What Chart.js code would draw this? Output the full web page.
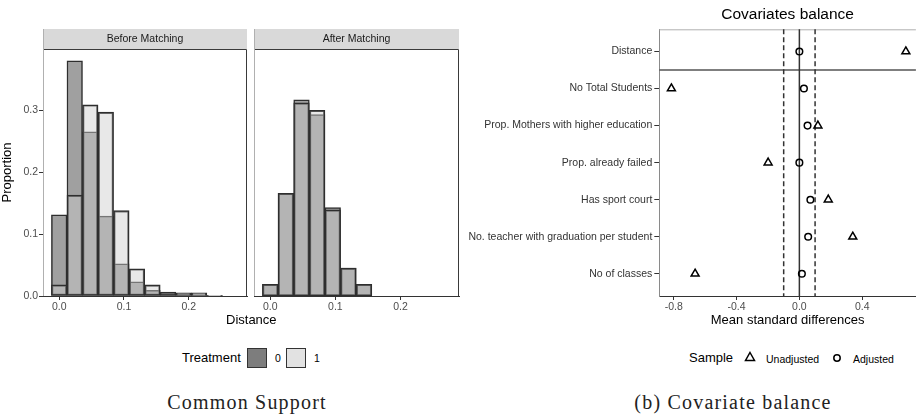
<!DOCTYPE html>
<html>
<head>
<meta charset="utf-8">
<script src="https://cdn.jsdelivr.net/npm/chart.js@4.4.1/dist/chart.umd.min.js"></script>
<style>
  body { margin: 0; width: 922px; height: 419px; background: #fff; position: relative; overflow: hidden;
         font-family: "Liberation Sans", Arial, sans-serif; color: #000; }
  canvas { position: absolute; }
  .txt { position: absolute; white-space: nowrap; line-height: 16px; }
  .box { position: absolute; width: 18px; height: 18px; border: 1.5px solid #333; }
  .cap { position: absolute; white-space: nowrap; font-family: "Liberation Serif", "DejaVu Serif", serif;
         font-size: 20px; letter-spacing: 1.2px; color: #222; transform: translateX(-50%); }
</style>
</head>
<body>
<canvas id="before" width="250" height="289" style="left:0;top:29px"></canvas>
<canvas id="after" width="212" height="289" style="left:250px;top:29px"></canvas>
<canvas id="balance" width="462" height="330" style="left:460px;top:0"></canvas>

<div class="txt" style="left:226px;top:312px;font-size:13px">Distance</div>

<div class="txt" style="left:182px;top:350px;font-size:13px">Treatment</div>
<div class="box" style="left:247px;top:348px;background:#7d7d7d"></div>
<div class="txt" style="left:275px;top:350px;font-size:10.5px">0</div>
<div class="box" style="left:286px;top:348px;background:#e2e2e2"></div>
<div class="txt" style="left:314px;top:350px;font-size:10.5px">1</div>

<div class="txt" style="left:689px;top:350px;font-size:13px">Sample</div>
<svg style="position:absolute;left:744px;top:351px" width="12" height="12"><polygon points="6,1.5 10.5,9.5 1.5,9.5" fill="none" stroke="#000" stroke-width="1.5"/></svg>
<div class="txt" style="left:766px;top:351px;font-size:10.5px">Unadjusted</div>
<svg style="position:absolute;left:831px;top:352px" width="12" height="12"><circle cx="6" cy="6" r="3.2" fill="none" stroke="#000" stroke-width="1.5"/></svg>
<div class="txt" style="left:853px;top:351px;font-size:10.5px">Adjusted</div>

<div class="cap" style="left:247px;top:391px">Common Support</div>
<div class="cap" style="left:733px;top:391px">(b) Covariate balance</div>

<script>
// histogram bins (bin centres, width 0.024)
const beforeBins = [0.000, 0.024, 0.048, 0.072, 0.096, 0.120, 0.144, 0.168, 0.192, 0.216, 0.240];
const beforeTreat0 = [0.131, 0.380, 0.265, 0.129, 0.052, 0.023, 0.009, 0.004, 0.003, 0.001, 0.001];
const beforeTreat1 = [0.018, 0.163, 0.309, 0.297, 0.138, 0.044, 0.018, 0.0065, 0.005, 0.005, 0.001];

const afterBins = [0.000, 0.024, 0.048, 0.072, 0.096, 0.120, 0.144];
const afterTreat0 = [0.019, 0.166, 0.317, 0.293, 0.143, 0.045, 0.019];
const afterTreat1 = [0.019, 0.166, 0.312, 0.300, 0.139, 0.045, 0.019];

const histXTicks = [0, 0.1, 0.2];
const histYTicks = [0, 0.1, 0.2, 0.3];

// covariate balance
const covariates = ['Distance', 'No Total Students', 'Prop. Mothers with higher education',
  'Prop. already failed', 'Has sport court', 'No. teacher with graduation per student', 'No of classes'];
const unadjusted = [0.678, -0.815, 0.118, -0.199, 0.184, 0.340, -0.664];
const adjusted = [0.000, 0.029, 0.052, 0.000, 0.070, 0.056, 0.016];
const balanceXTicks = [-0.8, -0.4, 0.0, 0.4];
const solidRefs = [0];
const dashedRefs = [-0.1, 0.1];
const separatorRows = [1.5];

const FONT = '"Liberation Sans", Arial, sans-serif';

const panelFrame = {
  id: 'panelFrame',
  afterDraw(chart, args, opts) {
    const { ctx, chartArea: a } = chart;
    ctx.save();
    ctx.fillStyle = '#d9d9d9';
    ctx.fillRect(a.left, a.top - 20, a.right - a.left, 20);
    ctx.fillStyle = '#1a1a1a';
    ctx.font = '10.5px ' + FONT;
    ctx.textAlign = 'center';
    ctx.textBaseline = 'middle';
    ctx.fillText(opts.label, (a.left + a.right) / 2, a.top - 10);
    ctx.lineWidth = 1;
    ctx.strokeStyle = '#3a3a3a';
    ctx.beginPath();
    ctx.moveTo(a.left, a.top + 0.5);
    ctx.lineTo(a.right - 0.5, a.top + 0.5);
    ctx.lineTo(a.right - 0.5, a.bottom);
    ctx.stroke();
    ctx.strokeStyle = '#b0b0b0';
    ctx.beginPath();
    ctx.moveTo(a.left + 0.5, a.top - 20);
    ctx.lineTo(a.left + 0.5, a.bottom);
    ctx.stroke();
    ctx.restore();
  }
};

function histogram(id, bins, t0, t1, label, showY, pad) {
  return new Chart(document.getElementById(id), {
    type: 'bar',
    data: {
      datasets: [
        {
          label: '1', order: 0,
          data: bins.map((x, i) => ({ x: x, y: t1[i] })),
          backgroundColor: 'rgba(204,204,204,0.45)',
          borderColor: '#2e2e2e', borderWidth: 1.5, borderSkipped: false,
          grouped: false, barPercentage: 1, categoryPercentage: 1
        },
        {
          label: '0', order: 1,
          data: bins.map((x, i) => ({ x: x, y: t0[i] })),
          backgroundColor: '#a0a0a0',
          borderColor: '#2e2e2e', borderWidth: 1.5, borderSkipped: false,
          grouped: false, barPercentage: 1, categoryPercentage: 1
        }
      ]
    },
    plugins: [panelFrame],
    options: {
      responsive: false,
      animation: false,
      layout: { padding: pad },
      plugins: { legend: { display: false }, tooltip: { enabled: false }, panelFrame: { label: label } },
      scales: {
        x: {
          type: 'linear', min: -0.025, max: 0.29, offset: false,
          afterBuildTicks: s => { s.ticks = histXTicks.map(v => ({ value: v })); },
          afterFit: s => { s.height = 22; },
          ticks: { callback: v => v.toFixed(1), color: '#4d4d4d', font: { size: 10.5, family: FONT }, padding: 1, maxRotation: 0 },
          grid: { drawOnChartArea: false, color: '#333', tickLength: 4, offset: false },
          border: { display: true, color: '#333', width: 1 }
        },
        y: {
          display: showY,
          min: 0, max: 0.399,
          afterBuildTicks: s => { s.ticks = histYTicks.map(v => ({ value: v })); },
          afterFit: s => { s.width = showY ? 43 : 0; },
          ticks: { callback: v => v.toFixed(1), color: '#4d4d4d', font: { size: 10.5, family: FONT }, padding: 1 },
          grid: { drawOnChartArea: false, color: '#333', tickLength: 4 },
          border: { display: false },
          title: { display: true, text: 'Proportion', color: '#000', font: { size: 13, family: FONT }, padding: { top: 0, bottom: 4 } }
        }
      }
    }
  });
}

histogram('before', beforeBins, beforeTreat0, beforeTreat1, 'Before Matching', true, { top: 20, right: 3, left: 0, bottom: 0 });
histogram('after', afterBins, afterTreat0, afterTreat1, 'After Matching', false, { top: 20, right: 3, left: 4, bottom: 0 });

const balanceDecor = {
  id: 'balanceDecor',
  beforeDatasetsDraw(chart) {
    const { ctx, chartArea: a, scales: { x, y } } = chart;
    ctx.save();
    ctx.strokeStyle = '#b0b0b0';
    ctx.lineWidth = 1;
    ctx.beginPath();
    ctx.moveTo(a.left, a.top + 0.5);
    ctx.lineTo(a.right, a.top + 0.5);
    ctx.stroke();
    ctx.strokeStyle = '#555';
    ctx.lineWidth = 1.5;
    separatorRows.forEach(r => {
      const py = y.getPixelForValue(r);
      ctx.beginPath(); ctx.moveTo(a.left, py); ctx.lineTo(a.right, py); ctx.stroke();
    });
    ctx.strokeStyle = '#333';
    solidRefs.forEach(v => {
      const px = x.getPixelForValue(v);
      ctx.beginPath(); ctx.moveTo(px, a.top); ctx.lineTo(px, a.bottom); ctx.stroke();
    });
    ctx.setLineDash([5, 3]);
    dashedRefs.forEach(v => {
      const px = x.getPixelForValue(v);
      ctx.beginPath(); ctx.moveTo(px, a.top); ctx.lineTo(px, a.bottom); ctx.stroke();
    });
    ctx.restore();
  },
  afterDraw(chart) {
    const { ctx, chartArea: a } = chart;
    ctx.save();
    ctx.fillStyle = '#000';
    ctx.font = '15.5px ' + FONT;
    ctx.textAlign = 'center';
    ctx.textBaseline = 'middle';
    ctx.fillText('Covariates balance', (a.left + a.right) / 2, 15);
    ctx.restore();
  }
};

new Chart(document.getElementById('balance'), {
  type: 'scatter',
  data: {
    datasets: [
      {
        label: 'Unadjusted',
        data: covariates.map((c, i) => ({ x: unadjusted[i], y: i + 1 })),
        pointStyle: 'triangle', radius: 4.6,
        borderColor: '#000', backgroundColor: 'rgba(0,0,0,0)', borderWidth: 1.5
      },
      {
        label: 'Adjusted',
        data: covariates.map((c, i) => ({ x: adjusted[i], y: i + 1 })),
        pointStyle: 'circle', radius: 3.3,
        borderColor: '#000', backgroundColor: 'rgba(0,0,0,0)', borderWidth: 1.5
      }
    ]
  },
  plugins: [balanceDecor],
  options: {
    responsive: false,
    animation: false,
    layout: { padding: { top: 29.3, right: 0, left: 0, bottom: 0 } },
    plugins: { legend: { display: false }, tooltip: { enabled: false } },
    scales: {
      x: {
        type: 'linear', min: -0.892, max: 0.742,
        afterBuildTicks: s => { s.ticks = balanceXTicks.map(v => ({ value: v })); },
        afterFit: s => { s.height = 34; },
        ticks: { callback: v => v.toFixed(1), color: '#4d4d4d', font: { size: 10.5, family: FONT }, padding: 1, maxRotation: 0 },
        grid: { drawOnChartArea: false, color: '#333', tickLength: 4 },
        border: { display: true, color: '#333', width: 1 },
        title: { display: true, text: 'Mean standard differences', color: '#000', font: { size: 13, family: FONT }, padding: { top: 0, bottom: 2 } }
      },
      y: {
        type: 'linear', min: 0.4, max: 7.6, reverse: true,
        afterBuildTicks: s => { s.ticks = covariates.map((c, i) => ({ value: i + 1 })); },
        afterFit: s => { s.width = 199.3; },
        ticks: { callback: v => covariates[v - 1], color: '#333', font: { size: 10.5, family: FONT }, padding: 2 },
        grid: { drawOnChartArea: false, color: '#333', tickLength: 5 },
        border: { display: true, color: '#8a8a8a', width: 1 }
      }
    }
  }
});
</script>
</body>
</html>
